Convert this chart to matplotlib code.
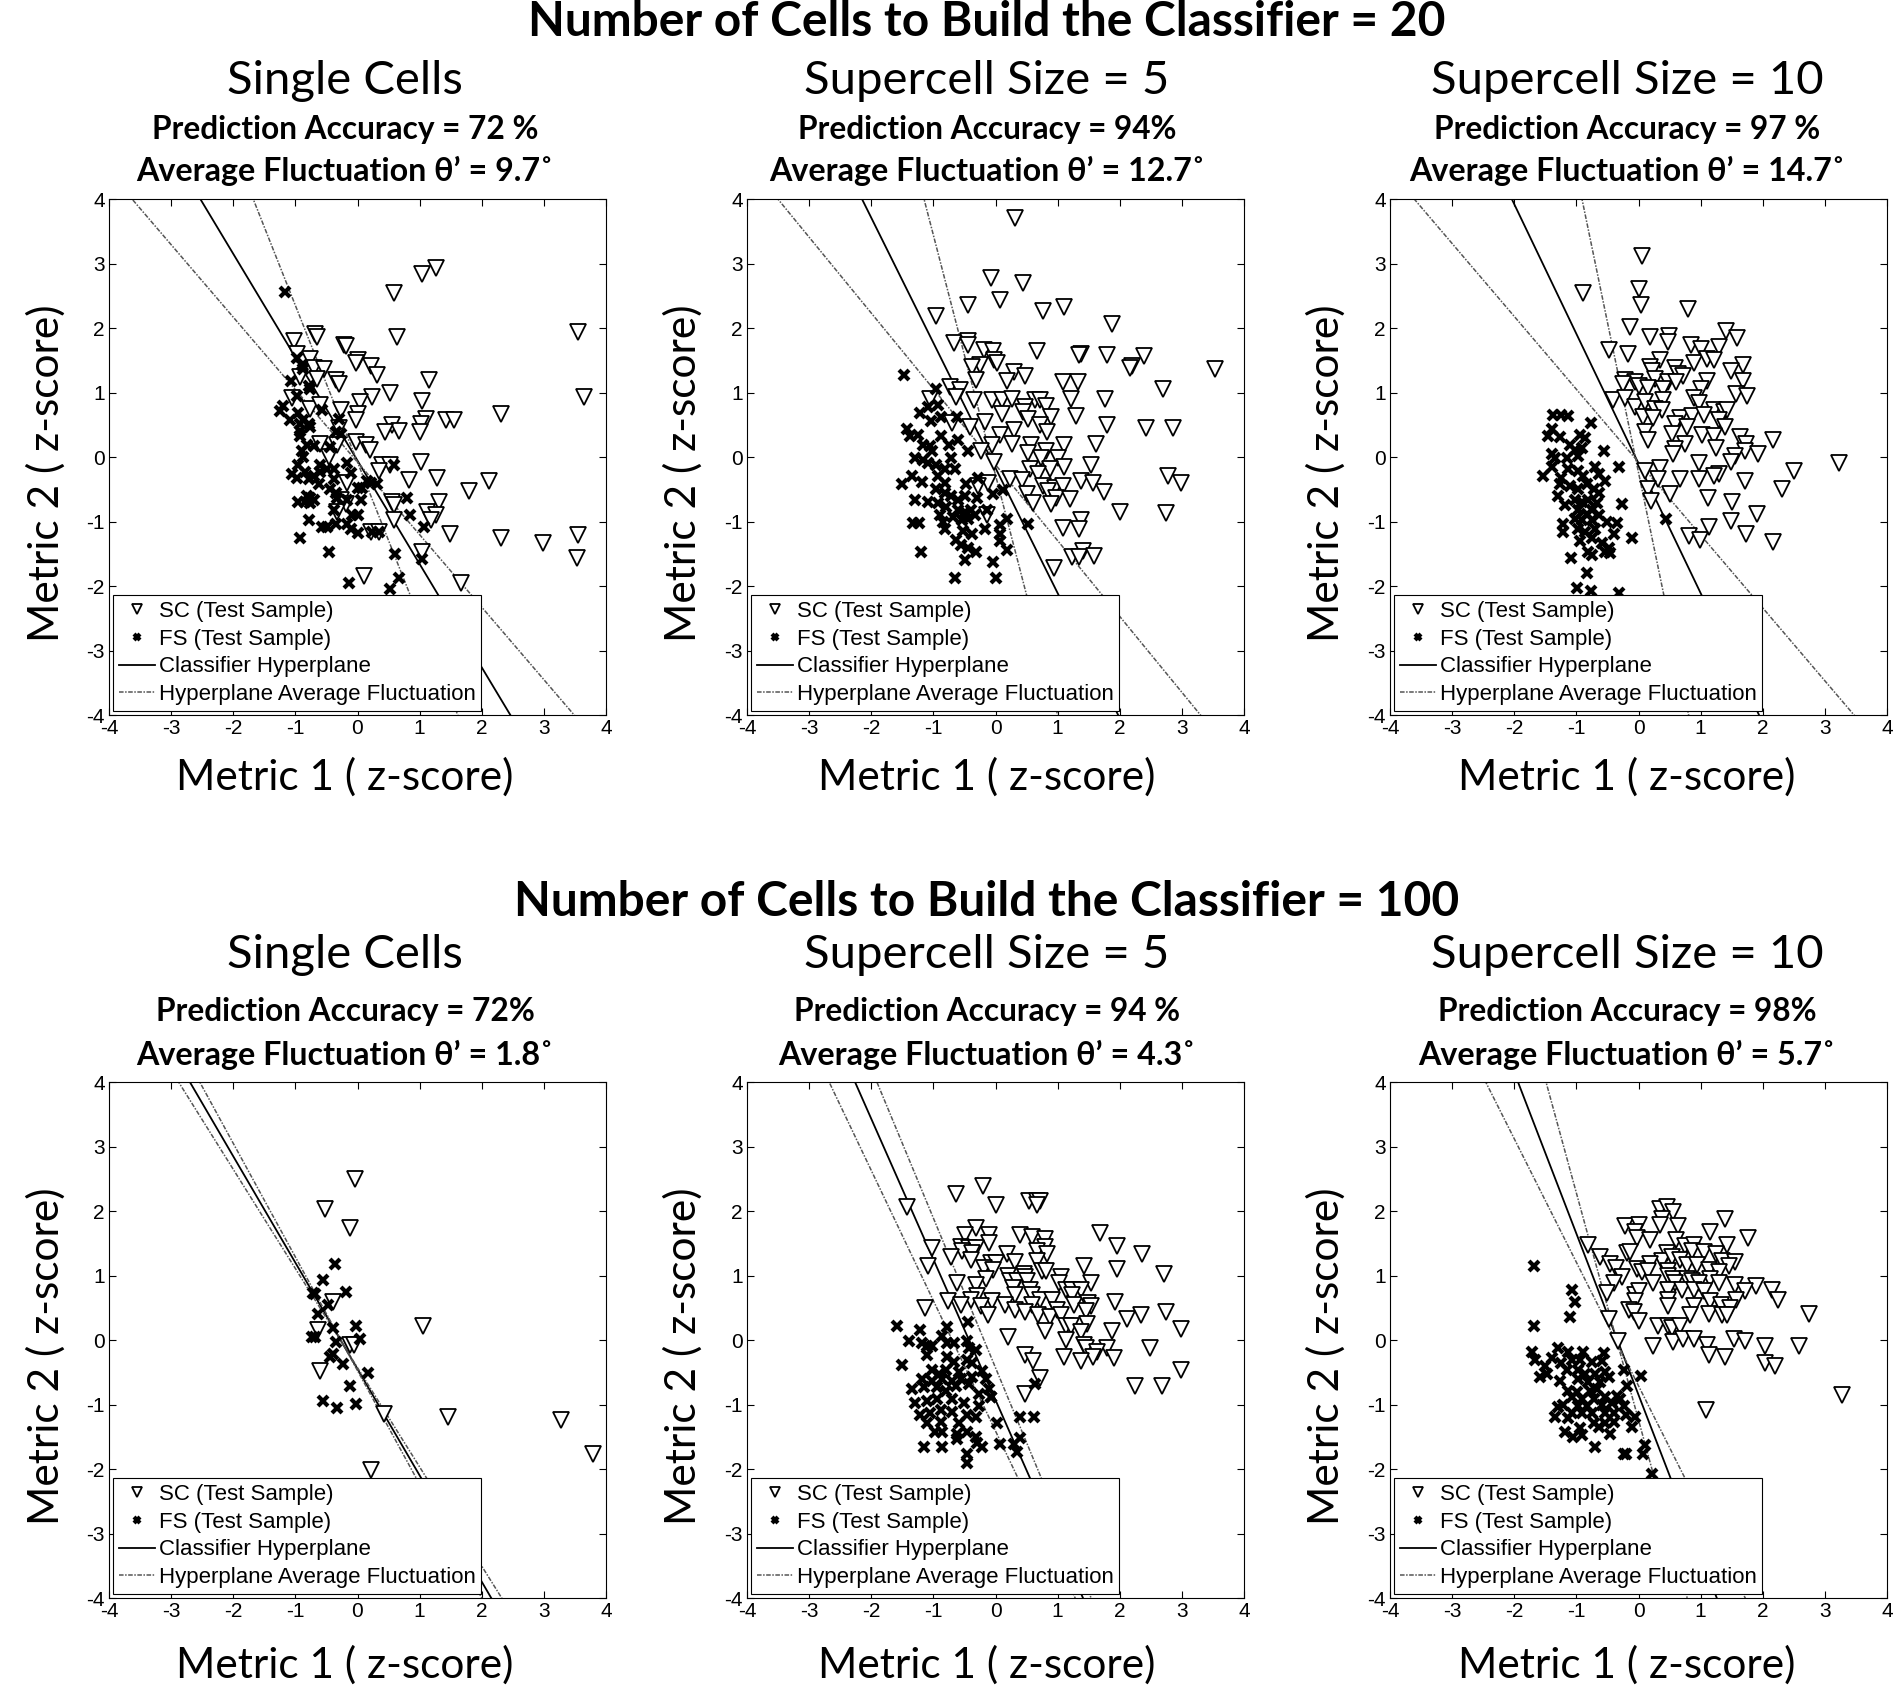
import numpy as np
import matplotlib
matplotlib.use('Agg')
import matplotlib.pyplot as plt

plt.rcParams['axes.unicode_minus'] = False
plt.rcParams['font.family'] = ['Liberation Sans', 'DejaVu Sans']

# ---- data (z-scores) ----
row_titles = ['Number of Cells to Build the Classifier = 20',
              'Number of Cells to Build the Classifier = 100']
panel_titles = ['Single Cells', 'Supercell Size = 5', 'Supercell Size = 10']
accuracy = ['72 %', '94%', '97 %', '72%', '94 %', '98%']
fluct_deg = ['9.7', '12.7', '14.7', '1.8', '4.3', '5.7']

# hyperplanes as slope / intercept (y = m*x + b)
hyp_slope = [-1.603, -1.94, -2.01, -1.649, -2.18, -2.50]
hyp_icpt = [-0.056, -0.17, -0.10, -0.45, -0.93, -0.85]
flA_slope = [-2.43, -3.72, -4.66, -1.762, -2.32, -3.52]
flA_icpt = [-0.08, -0.28, -0.24, -0.475, -0.43, -1.24]
flB_slope = [-1.124, -1.176, -1.13, -1.538, -2.02, -1.915]
flB_icpt = [-0.08, -0.12, -0.08, -0.43, -1.41, -0.71]

sc1 = [(1.27,2.93),(1.04,2.84),(0.58,2.55),(3.55,1.94),(0.64,1.86),(3.65,0.93),(-0.68,1.91),(-0.65,1.86),
       (-1.03,1.80),(-0.21,1.73),(-0.19,1.72),(-0.97,1.59),(-0.77,1.52),(0.0,1.50),(-0.03,1.45),(0.22,1.41),
       (0.32,1.27),(-0.70,1.38),(-0.54,1.36),(-0.65,1.21),(-0.35,1.20),(-0.30,1.13),(-0.93,1.24),(1.15,1.19),
       (0.53,0.99),(0.24,0.93),(0.04,0.86),(1.04,0.87),(-1.05,0.91),(-0.76,0.74),(-0.60,0.81),(-0.26,0.73),
       (0.01,0.67),(-0.02,0.57),(2.31,0.66),(1.42,0.58),(1.56,0.57),(1.10,0.59),(1.02,0.51),(0.56,0.50),
       (0.66,0.41),(0.45,0.38),(1.00,0.38),(-0.30,0.45),(-0.60,0.20),(-0.33,0.18),(-0.03,0.24),(0.13,0.18),
       (0.20,0.11),(-0.46,0.0),(1.03,-0.07),(0.40,-0.13),(0.53,-0.13),(0.34,-0.21),(0.83,-0.36),(1.28,-0.33),
       (2.12,-0.37),(1.80,-0.53),(-0.17,-0.41),(-0.27,-0.66),(-0.19,-0.73),(0.56,-0.69),(0.59,-0.74),(1.31,-0.69),
       (-0.33,-0.85),(1.12,-0.85),(1.26,-0.90),(1.18,-0.98),(0.59,-0.98),(1.49,-1.19),(2.31,-1.25),(2.98,-1.33),
       (3.55,-1.21),(3.54,-1.56),(0.21,-1.16),(0.34,-1.16),(1.04,-1.47),(0.10,-1.84),(1.67,-1.96)]
fs1 = [(-1.16,2.56),(-1.07,1.18),(-0.97,1.54),(-0.89,1.42),(-0.87,1.36),(-0.78,1.10),(-0.76,1.06),(-0.97,0.95),
       (-1.20,0.79),(-1.24,0.72),(-1.09,0.58),(-0.95,0.68),(-0.92,0.51),(-0.87,0.57),(-0.78,0.51),(-0.76,0.46),
       (-0.92,0.41),(-0.92,0.33),(-0.57,0.73),(-0.30,0.59),(-0.35,0.38),(-0.27,0.35),(-0.81,0.18),(-0.70,0.17),
       (-0.89,0.09),(-0.87,0.0),(-0.44,0.15),(-0.95,-0.13),(-1.05,-0.26),(-0.97,-0.32),(-0.84,-0.24),(-0.78,-0.34),
       (-0.70,-0.29),(-0.62,-0.42),(-0.60,-0.13),(-0.49,-0.18),(-0.60,-0.24),(-0.38,-0.18),(-0.38,-0.34),(-0.44,-0.50),
       (-0.35,-0.56),(-0.33,-0.64),(-0.17,-0.10),(-0.11,-0.25),(0.0,-0.48),(0.08,-0.48),(0.16,-0.37),(0.21,-0.40),
       (0.32,-0.42),(0.59,-0.12),(-0.95,-0.69),(-0.84,-0.69),(-0.76,-0.72),(-0.76,-0.64),(-0.81,-0.61),(-0.70,-0.66),
       (-0.38,-0.82),(-0.17,-0.66),(0.05,-0.66),(0.0,-0.90),(-0.09,-0.90),(-0.17,-1.04),(-0.11,-1.12),(0.0,-1.18),
       (-0.35,-1.04),(-0.57,-1.09),(-0.49,-1.09),(-0.78,-0.98),(-0.92,-1.26),(-0.46,-1.48),(-0.14,-1.95),(0.53,-2.05),
       (0.67,-1.87),(0.61,-1.51),(1.04,-1.58),(1.07,-1.08),(0.85,-0.90),(0.80,-0.63),(0.34,-1.17),(0.24,-1.16)]

sc2 = [(0.32,3.71),(-0.08,2.77),(0.45,2.70),(0.07,2.43),(-0.44,2.36),(1.10,2.32),(0.76,2.27),(-0.95,2.19),
       (1.88,2.06),(-0.66,1.77),(-0.44,1.80),(-0.45,1.74),(-0.19,1.66),(-0.04,1.64),(0.66,1.64),(1.38,1.59),
       (1.34,1.58),(1.79,1.58),(2.39,1.57),(-0.03,1.50),(0.02,1.45),(-0.25,1.43),(-0.38,1.40),(2.19,1.41),
       (2.16,1.38),(3.53,1.36),(0.30,1.32),(0.48,1.26),(-0.31,1.20),(0.18,1.18),(1.09,1.17),(1.33,1.16),
       (-0.73,1.09),(-0.57,1.04),(2.70,1.06),(-1.06,0.90),(-0.63,0.93),(-0.34,0.88),(-0.06,0.88),(0.10,0.89),
       (0.26,0.90),(0.63,0.89),(0.71,0.89),(1.21,0.90),(1.76,0.90),(0.47,0.77),(0.82,0.79),(0.11,0.67),
       (0.45,0.70),(0.53,0.59),(0.89,0.62),(1.30,0.63),(-0.17,0.54),(-0.70,0.52),(-0.41,0.46),(0.71,0.49),
       (0.83,0.38),(1.79,0.50),(2.43,0.45),(2.86,0.45),(0.30,0.42),(0.07,0.34),(-0.06,0.19),(0.26,0.20),
       (0.57,0.19),(1.10,0.19),(1.61,0.20),(-0.24,0.09),(0.53,0.06),(0.82,0.10),(0.74,-0.02),(1.00,-0.01),
       (-0.02,-0.07),(1.11,-0.16),(1.54,-0.13),(0.55,-0.18),(0.87,-0.18),(0.69,-0.26),(2.78,-0.29),(2.98,-0.40),
       (0.23,-0.34),(0.43,-0.36),(1.37,-0.37),(1.57,-0.40),(-0.12,-0.40),(-0.28,-0.45),(0.77,-0.45),(0.95,-0.48),
       (1.09,-0.45),(0.85,-0.53),(1.75,-0.55),(0.51,-0.57),(0.98,-0.64),(1.20,-0.65),(0.60,-0.71),(0.90,-0.73),
       (2.00,-0.85),(2.74,-0.87),(-0.14,-0.90),(1.37,-0.97),(1.09,-1.10),(1.34,-1.12),(1.41,-1.45),(1.23,-1.55),
       (1.34,-1.55),(1.59,-1.53),(0.94,-1.72)]
fs2 = [(-1.47,1.27),(-0.95,1.06),(-0.93,0.81),(-1.22,0.68),(-1.08,0.77),(-1.04,0.56),(-0.87,0.62),(-0.62,0.62),
       (-1.42,0.43),(-1.38,0.33),(-1.24,0.34),(-0.87,0.33),(-0.60,0.27),(-1.16,0.19),(-1.05,0.17),(-1.03,0.09),
       (-0.75,0.19),(-1.29,-0.02),(-1.16,-0.05),(-1.08,-0.10),(-0.95,-0.13),(-0.81,-0.18),(-0.71,-0.02),(-0.45,0.10),
       (-1.35,-0.29),(-1.51,-0.42),(-1.19,-0.39),(-0.92,-0.29),(-0.81,-0.40),(-0.65,-0.19),(-0.95,-0.50),(-0.81,-0.56),
       (-0.71,-0.61),(-0.60,-0.66),(-0.49,-0.61),(-0.47,-0.42),(-1.30,-0.67),(-1.08,-0.69),(-0.92,-0.72),(-0.79,-0.77),
       (-0.60,-0.82),(-0.49,-0.85),(-0.39,-0.82),(-0.33,-0.90),(-0.29,-0.64),(-0.28,-0.32),(-0.04,-0.58),(0.12,-0.51),
       (-0.89,-0.90),(-0.84,-1.01),(-0.81,-1.12),(-0.68,-0.93),(-0.54,-0.98),(-0.44,-0.96),(-1.32,-1.03),(-1.23,-1.03),
       (-0.52,-1.14),(-0.38,-1.20),(-0.17,-1.12),(-0.14,-0.82),(0.07,-1.05),(0.18,-0.96),(0.07,-1.20),(0.07,-1.30),
       (0.18,-1.44),(-0.63,-1.28),(-0.55,-1.36),(-0.44,-1.41),(-0.32,-1.47),(-0.49,-1.60),(-1.20,-1.48),(-0.04,-1.63),
       (-0.65,-1.87),(0.0,-1.87),(0.53,-1.04)]

sc3 = [(0.05,3.11),(0.01,2.61),(-0.90,2.55),(0.04,2.36),(0.79,2.30),(-0.13,2.02),(1.41,1.96),(0.19,1.86),
       (0.49,1.88),(0.48,1.78),(1.58,1.84),(0.85,1.73),(1.01,1.68),(1.29,1.70),(-0.47,1.66),(-0.17,1.59),
       (0.35,1.50),(0.90,1.45),(1.10,1.52),(1.21,1.50),(1.68,1.42),(0.19,1.40),(0.21,1.34),(0.58,1.38),
       (1.49,1.33),(0.64,1.29),(0.71,1.26),(-0.21,1.20),(-0.05,1.17),(0.27,1.21),(1.10,1.18),(1.69,1.18),
       (0.48,1.16),(0.61,1.17),(-0.25,1.13),(0.0,1.10),(0.16,1.07),(0.40,1.06),(1.01,1.06),(1.57,0.97),
       (1.74,0.95),(-0.41,0.88),(-0.21,0.91),(-0.05,0.78),(0.11,0.86),(0.40,0.89),(0.89,0.91),(0.97,0.83),
       (0.27,0.75),(0.38,0.73),(1.21,0.73),(1.37,0.70),(1.42,0.73),(0.08,0.62),(0.24,0.61),(0.67,0.61),
       (0.86,0.63),(1.06,0.65),(1.29,0.58),(0.58,0.51),(0.78,0.46),(1.40,0.47),(0.11,0.38),(0.54,0.36),
       (1.02,0.34),(1.21,0.33),(1.64,0.31),(2.17,0.27),(0.15,0.26),(0.75,0.20),(1.73,0.20),(0.59,0.13),
       (1.25,0.14),(1.72,0.10),(0.55,0.04),(1.56,0.01),(1.93,0.04),(3.22,-0.10),(0.98,-0.09),(1.49,-0.07),
       (0.34,-0.17),(2.51,-0.22),(0.11,-0.21),(1.30,-0.26),(1.22,-0.29),(0.31,-0.34),(0.67,-0.34),(0.98,-0.34),
       (1.72,-0.37),(0.15,-0.49),(2.31,-0.49),(0.51,-0.57),(1.12,-0.64),(0.20,-0.68),(1.50,-0.69),(1.91,-0.89),
       (1.49,-0.99),(1.13,-1.09),(1.73,-1.20),(0.81,-1.22),(0.99,-1.29),(2.17,-1.32)]
fs3 = [(-1.37,0.65),(-1.25,0.65),(-1.13,0.63),(-0.76,0.52),(-1.40,0.43),(-1.45,0.33),(-1.26,0.31),(-0.94,0.34),
       (-0.86,0.29),(-1.10,0.19),(-1.02,0.11),(-0.91,0.14),(-0.56,0.09),(-1.40,0.04),(-1.34,-0.02),(-1.15,-0.02),
       (-0.98,0.01),(-0.32,-0.16),(-1.40,-0.16),(-1.53,-0.29),(-1.25,-0.32),(-1.13,-0.18),(-0.97,-0.21),(-0.89,-0.29),
       (-0.70,-0.16),(-0.64,-0.26),(-0.54,-0.37),(-1.26,-0.42),(-1.10,-0.45),(-0.97,-0.50),(-0.83,-0.42),(-0.72,-0.50),
       (-0.64,-0.56),(-1.29,-0.61),(-1.18,-0.74),(-1.02,-0.66),(-0.91,-0.69),(-0.81,-0.66),(-0.67,-0.72),(-0.27,-0.73),
       (-0.97,-0.82),(-0.83,-0.88),(-0.75,-0.82),(-0.64,-0.90),(-1.02,-0.96),(-0.91,-0.98),(-0.75,-0.98),(-0.51,-1.01),
       (-0.35,-1.03),(-1.22,-1.04),(-1.22,-1.17),(-0.97,-1.12),(-0.86,-1.17),(-0.70,-1.12),(-0.40,-1.20),(-0.10,-1.26),
       (-0.94,-1.30),(-0.75,-1.25),(-0.59,-1.33),(-0.48,-1.41),(-0.81,-1.47),(-0.75,-1.52),(-0.54,-1.47),(-0.46,-1.49),
       (-1.08,-1.56),(-0.83,-1.80),(-0.99,-2.03),(-0.76,-2.08),(-0.31,-2.11),(0.44,-0.96)]

sc4 = [(-0.04,2.50),(-0.53,2.03),(-0.12,1.74),(-0.40,0.59),(-0.64,0.16),(1.06,0.21),(-0.12,-0.07),(-0.05,-0.07),
       (-0.61,-0.48),(0.43,-1.15),(1.46,-1.19),(3.28,-1.24),(3.79,-1.76),(0.21,-2.01)]
fs4 = [(-0.36,1.18),(-0.55,0.93),(-0.71,0.73),(-0.69,0.72),(-0.19,0.74),(-0.47,0.54),(-0.63,0.41),(-0.39,0.18),
       (-0.02,0.21),(-0.74,0.04),(-0.69,0.05),(0.04,0.02),(-0.35,-0.03),(-0.39,-0.21),(-0.44,-0.27),(-0.23,-0.37),
       (0.17,-0.51),(-0.12,-0.71),(-0.55,-0.95),(-0.33,-1.05),(-0.02,-0.99)]

sc5 = [(-0.20,2.39),(-0.64,2.27),(0.01,2.09),(-1.43,2.06),(0.54,2.15),(0.67,2.15),(0.72,2.15),(0.66,2.09),
       (-0.31,1.73),(1.68,1.66),(-0.49,1.63),(-0.10,1.63),(0.40,1.63),(0.58,1.60),(0.79,1.56),(-0.10,1.51),
       (1.95,1.45),(-0.56,1.44),(-0.43,1.42),(-0.31,1.42),(0.80,1.44),(-1.02,1.42),(-0.54,1.38),(-0.38,1.35),
       (0.67,1.38),(2.36,1.34),(-0.72,1.28),(-0.40,1.24),(0.19,1.34),(0.32,1.21),(0.83,1.33),(0.67,1.23),
       (-0.08,1.19),(0.0,1.19),(-1.08,1.15),(-0.19,1.12),(-0.04,1.09),(1.43,1.15),(1.95,1.10),(0.75,1.07),
       (0.82,1.07),(2.71,1.02),(0.20,0.99),(0.46,1.02),(0.48,0.97),(1.06,0.97),(-0.16,0.94),(-0.62,0.89),
       (-0.32,0.86),(0.24,0.91),(0.35,0.91),(0.51,0.91),(1.02,0.89),(1.54,0.89),(0.28,0.81),(0.55,0.78),
       (1.13,0.78),(1.23,0.78),(1.37,0.77),(-0.29,0.68),(0.32,0.70),(0.59,0.70),(1.23,0.70),(-0.39,0.62),
       (-0.05,0.60),(0.72,0.62),(0.91,0.62),(-0.76,0.60),(-0.56,0.54),(-0.23,0.52),(0.16,0.54),(0.59,0.55),
       (1.26,0.55),(1.49,0.57),(1.54,0.53),(1.93,0.59),(-1.13,0.49),(0.32,0.46),(0.47,0.44),(0.69,0.38),
       (0.99,0.46),(1.46,0.45),(-0.12,0.39),(2.35,0.39),(2.75,0.43),(0.88,0.36),(1.05,0.38),(2.12,0.32),
       (1.13,0.22),(1.21,0.21),(1.47,0.25),(0.80,0.14),(1.88,0.14),(1.37,0.12),(2.99,0.17),(0.20,0.05),
       (1.13,0.0),(1.42,-0.07),(1.45,-0.12),(1.80,-0.12),(1.64,-0.19),(2.48,-0.12),(0.48,-0.24),(1.10,-0.26),
       (1.57,-0.27),(1.90,-0.28),(0.60,-0.32),(1.37,-0.32),(2.99,-0.47),(0.71,-0.59),(2.25,-0.71),(2.68,-0.71),
       (0.48,-0.84)]
fs5 = [(-1.58,0.21),(-1.22,0.16),(-0.78,0.20),(-0.44,0.28),(-1.39,-0.01),(-0.86,0.06),(-1.19,-0.04),(-1.10,-0.10),
       (-1.02,-0.10),(-0.78,-0.04),(-0.67,-0.04),(-0.46,-0.02),(-0.43,-0.12),(-0.32,-0.15),(-1.51,-0.39),(-1.10,-0.23),
       (-0.78,-0.26),(-0.67,-0.34),(-0.46,-0.31),(-0.38,-0.35),(-1.02,-0.47),(-0.91,-0.52),(-0.80,-0.47),(-0.59,-0.49),
       (-0.21,-0.48),(-1.18,-0.60),(-1.02,-0.63),(-0.86,-0.60),(-0.70,-0.63),(-0.56,-0.60),(-0.38,-0.57),(-0.16,-0.60),
       (-1.34,-0.76),(-1.15,-0.73),(-0.94,-0.73),(-0.80,-0.79),(-0.64,-0.71),(-0.43,-0.68),(-0.11,-0.76),(0.63,-0.68),
       (-1.29,-0.97),(-1.10,-0.95),(-0.94,-0.92),(-0.70,-0.92),(-0.51,-0.97),(-0.27,-0.84),(-0.08,-0.89),(-0.27,-1.03),
       (-1.21,-1.16),(-1.05,-1.13),(-0.88,-1.08),(-0.70,-1.11),(-0.46,-1.16),(-0.32,-1.19),(-0.88,-1.27),(-1.10,-1.29),
       (-0.59,-1.29),(-0.97,-1.43),(-0.86,-1.43),(-0.62,-1.45),(-0.46,-1.43),(-0.31,-1.51),(-0.29,-1.59),(-0.21,-1.66),
       (-0.62,-1.54),(-1.15,-1.66),(-0.86,-1.66),(-0.46,-1.77),(-0.46,-1.90),(0.03,-1.29),(0.08,-1.61),(0.29,-1.61),
       (0.40,-1.52),(0.35,-1.73),(0.39,-1.20),(0.62,-1.19),(-0.08,-0.88)]

sc6 = [(0.34,2.03),(0.46,2.06),(0.56,1.98),(1.40,1.87),(0.38,1.88),(-0.21,1.77),(0.0,1.79),(0.34,1.78),
       (0.64,1.77),(-0.05,1.67),(1.15,1.68),(-0.03,1.58),(0.19,1.55),(0.60,1.55),(1.76,1.58),(-0.82,1.47),
       (0.75,1.46),(0.90,1.47),(1.42,1.47),(-0.19,1.35),(-0.13,1.37),(0.46,1.35),(0.86,1.38),(1.05,1.37),
       (1.25,1.33),(-0.62,1.29),(0.38,1.23),(0.54,1.29),(0.67,1.24),(1.34,1.23),(1.55,1.21),(-0.46,1.18),
       (0.19,1.18),(0.78,1.16),(0.94,1.16),(1.45,1.15),(-0.37,1.12),(-0.03,1.10),(0.05,1.06),(0.16,1.07),
       (0.48,1.07),(1.13,1.09),(1.29,1.06),(-0.27,0.97),(0.48,0.99),(0.56,0.94),(0.78,0.94),(1.15,0.94),
       (-0.40,0.89),(0.24,0.89),(0.59,0.89),(0.86,0.91),(0.97,0.89),(1.29,0.89),(1.56,0.85),(1.89,0.84),
       (2.15,0.78),(0.48,0.77),(0.70,0.77),(0.89,0.77),(1.05,0.76),(1.72,0.76),(-0.51,0.73),(-0.05,0.70),
       (0.0,0.76),(0.47,0.62),(1.15,0.61),(1.57,0.62),(2.25,0.62),(-0.05,0.60),(0.48,0.53),(0.89,0.52),
       (1.32,0.54),(1.48,0.49),(-0.15,0.46),(-0.07,0.44),(0.83,0.39),(1.14,0.41),(1.34,0.38),(1.42,0.38),
       (2.74,0.41),(-0.48,0.33),(0.0,0.29),(0.32,0.22),(0.48,0.22),(0.54,0.18),(0.67,0.22),(-0.33,-0.02),
       (0.56,-0.03),(0.72,0.01),(0.89,0.01),(1.53,0.01),(1.72,-0.02),(0.24,-0.09),(1.10,-0.07),(2.04,-0.09),
       (2.58,-0.10),(1.14,-0.24),(1.40,-0.27),(2.04,-0.35),(2.20,-0.41),(3.27,-0.85),(1.08,-1.08)]
fs6 = [(-1.69,1.15),(-1.07,0.77),(-1.02,0.59),(-1.11,0.35),(-1.69,0.21),(-1.71,-0.18),(-1.66,-0.31),(-1.29,-0.12),
       (-1.14,-0.18),(-0.89,-0.18),(-0.56,-0.20),(-1.40,-0.28),(-1.24,-0.36),(-1.07,-0.31),(-0.94,-0.31),(-0.75,-0.34),
       (-0.59,-0.32),(-1.50,-0.41),(-1.58,-0.57),(-1.48,-0.52),(-1.15,-0.47),(-0.97,-0.47),(-0.86,-0.52),(-0.70,-0.52),
       (-0.54,-0.49),(-0.48,-0.57),(-0.24,-0.47),(0.04,-0.56),(-1.26,-0.64),(-0.97,-0.60),(-0.81,-0.65),(-0.62,-0.65),
       (-0.19,-0.71),(-1.13,-0.79),(-0.99,-0.81),(-0.78,-0.79),(-0.67,-0.76),(-1.07,-0.89),(-0.91,-0.92),(-0.72,-0.92),
       (-0.54,-0.89),(-0.35,-0.87),(-0.30,-0.92),(-1.21,-1.00),(-0.97,-1.03),(-0.83,-1.03),(-0.59,-1.00),(-0.43,-0.97),
       (-0.24,-1.03),(-1.30,-1.04),(-1.07,-1.13),(-0.91,-1.13),(-0.75,-1.13),(-0.54,-1.13),(-0.40,-1.13),(-0.20,-1.16),
       (-0.05,-1.19),(-1.34,-1.19),(-1.14,-1.21),(-0.72,-1.28),(-0.54,-1.28),(-0.40,-1.27),(-0.11,-1.35),(-0.64,-1.35),
       (-0.94,-1.37),(-1.18,-1.43),(-1.05,-1.51),(-0.91,-1.48),(-0.70,-1.66),(-0.24,-1.77),(-0.20,-1.77),(0.11,-1.63),
       (0.08,-1.77),(0.21,-2.07),(-0.46,-1.45)]

sc_sets = [sc1, sc2, sc3, sc4, sc5, sc6]
fs_sets = [fs1, fs2, fs3, fs4, fs5, fs6]

# ---- layout (pixels of the 1895x1701 canvas) ----
W, H = 1895, 1701
fig = plt.figure(figsize=(W / 100, H / 100), dpi=100)
TITLE_FONT = ['Lato', 'DejaVu Sans']
col_left = [109, 747, 1390]
col_text = [345, 987, 1627]
ylab_x = [46, 683, 1326]
row_top = [199, 1082]
ax_w, ax_h = 497, 516
row_title_y = [22, 902]
sub_y = [81, 955]
acc_y = [129, 1012]
fl_y = [171, 1055]
xlab_y = [777, 1665]


def fx(p):
    return p / W


def fy(p):
    return 1 - p / H


xx = np.linspace(-4, 4, 200)
for r in range(2):
    fig.text(fx(987), fy(row_title_y[r]), row_titles[r], ha='center', va='center',
             fontsize=34.5, fontweight='bold', family=TITLE_FONT)
    for c in range(3):
        i = r * 3 + c
        ax = fig.add_axes([fx(col_left[c]), fy(row_top[r] + ax_h), ax_w / W, ax_h / H])
        sc = np.array(sc_sets[i])
        fs = np.array(fs_sets[i])
        ax.plot(sc[:, 0], sc[:, 1], 'v', ms=11, mfc='white', mec='black', mew=1.3,
                ls='none', label='SC (Test Sample)', zorder=3)
        ax.plot(fs[:, 0], fs[:, 1], 'x', ms=6.5, mec='black', mew=3,
                ls='none', label='FS (Test Sample)', zorder=3)
        ax.plot(xx, hyp_slope[i] * xx + hyp_icpt[i], color='black', lw=1.3,
                label='Classifier Hyperplane', zorder=2)
        ax.plot(xx, flA_slope[i] * xx + flA_icpt[i], color='#555555', lw=1.1,
                ls=(0, (3, 1, 1, 1)), label='Hyperplane Average Fluctuation', zorder=2)
        ax.plot(xx, flB_slope[i] * xx + flB_icpt[i], color='#555555', lw=1.1,
                ls=(0, (3, 1, 1, 1)), zorder=2)
        ax.set_xlim(-4, 4)
        ax.set_ylim(-4, 4)
        ax.set_xticks(range(-4, 5))
        ax.set_yticks(range(-4, 5))
        ax.tick_params(direction='in', top=True, right=True, labelsize=15,
                       length=5, width=0.8, pad=3)
        for sp in ax.spines.values():
            sp.set_linewidth(0.8)
        leg = ax.legend(loc='lower left', fontsize=16, frameon=True, fancybox=False,
                        framealpha=1, edgecolor='black', borderaxespad=0.2,
                        handlelength=1.6, handletextpad=0.2, labelspacing=0.3,
                        borderpad=0.25, markerscale=0.65)
        leg.get_frame().set_linewidth(0.8)
        leg.set_zorder(5)

        fig.text(fx(col_text[c]), fy(sub_y[r]), panel_titles[c], ha='center', va='center',
                 fontsize=34, family=TITLE_FONT)
        fig.text(fx(col_text[c]), fy(acc_y[r]), 'Prediction Accuracy = ' + accuracy[i],
                 ha='center', va='center', fontsize=22.8, fontweight='bold', family=TITLE_FONT)
        fig.text(fx(col_text[c]), fy(fl_y[r]),
                 'Average Fluctuation \u03b8\u2019 = ' + fluct_deg[i] + '\u02da',
                 ha='center', va='center', fontsize=23.2, fontweight='bold', family=TITLE_FONT)
        fig.text(fx(col_text[c]), fy(xlab_y[r]), 'Metric 1 ( z-score)', ha='center',
                 va='center', fontsize=30.5, family=TITLE_FONT)
        fig.text(fx(ylab_x[c]), fy(row_top[r] + 274), 'Metric 2 ( z-score)', ha='center',
                 va='center', rotation=90, fontsize=30.5, family=TITLE_FONT)

fig.savefig('out.png', dpi=100)
